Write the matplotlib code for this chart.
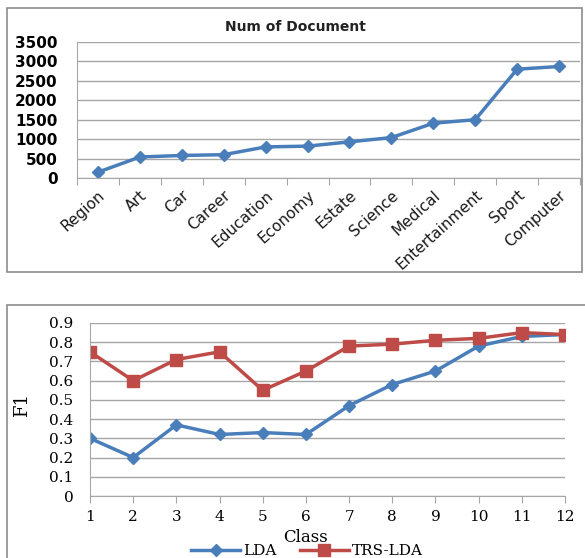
import matplotlib.pyplot as plt
from matplotlib.patches import Rectangle

# data
categories = ['Region', 'Art', 'Car', 'Career', 'Education', 'Economy', 'Estate',
              'Science', 'Medical', 'Entertainment', 'Sport', 'Computer']
num_docs = [150, 540, 580, 600, 800, 820, 930, 1040, 1410, 1500, 2800, 2870]

classes = [1, 2, 3, 4, 5, 6, 7, 8, 9, 10, 11, 12]
f1_lda = [0.30, 0.20, 0.37, 0.32, 0.33, 0.32, 0.47, 0.58, 0.65, 0.78, 0.83, 0.84]
f1_trs = [0.75, 0.60, 0.71, 0.75, 0.55, 0.65, 0.78, 0.79, 0.81, 0.82, 0.85, 0.84]

W, H = 585, 558
fig = plt.figure(figsize=(W / 100, H / 100), dpi=100)


def px_axes(x0, y0, x1, y1):
    # pixel box (top-left origin) -> figure axes
    return fig.add_axes([x0 / W, 1 - y1 / H, (x1 - x0) / W, (y1 - y0) / H])


# outer frames of the two charts
fig.patches.append(Rectangle((7 / W, 1 - 272 / H), 575 / W, 264 / H, transform=fig.transFigure,
                             fill=False, edgecolor='#8c8c8c', lw=1.2))
fig.patches.append(Rectangle((7 / W, -0.1), 1.0, 1 - 305 / H + 0.1, transform=fig.transFigure,
                             fill=False, edgecolor='#8c8c8c', lw=1.2))

grid_c = '#a6a6a6'
blue = '#4a7ebb'
red = '#be4b48'

# ---- top chart ----
ax1 = px_axes(77, 42, 580, 178)
x = range(len(categories))
ax1.plot(x, num_docs, color=blue, lw=2.5, marker='D', ms=6.5, mec=blue, mfc=blue)
ax1.set_xlim(-0.5, len(categories) - 0.5)
ax1.set_ylim(0, 3500)
ax1.set_yticks(range(0, 3501, 500))
ax1.set_xticks([i + 0.5 for i in range(-1, len(categories))])
ax1.set_xticklabels([])
ax1.set_xticks(list(x), minor=True)
ax1.set_xticklabels(categories, minor=True, rotation=42, ha='right', rotation_mode='anchor',
                    fontsize=11, color='#1a1a1a')
ax1.tick_params(axis='x', which='minor', length=0, pad=7)
ax1.tick_params(axis='x', which='major', length=5, color=grid_c, direction='out')
ax1.tick_params(axis='y', length=0, pad=14, labelsize=11)
for lab in ax1.get_yticklabels():
    lab.set_fontweight('bold')
ax1.grid(axis='y', color=grid_c, lw=1)
for s in ['top', 'right']:
    ax1.spines[s].set_visible(False)
ax1.spines['left'].set_color(grid_c)
ax1.spines['bottom'].set_color(grid_c)
ax1.set_axisbelow(True)
fig.text(295 / W, 1 - 27 / H, 'Num of Document', ha='center', va='center',
         fontsize=10, fontweight='semibold', color='#222222')

# ---- bottom chart ----
ax2 = px_axes(90, 323, 565, 496)
ax2.plot(classes, f1_lda, color=blue, lw=2.5, marker='D', ms=6.5, label='LDA')
ax2.plot(classes, f1_trs, color=red, lw=2.5, marker='s', ms=9, label='TRS-LDA')
ax2.set_xlim(1, 12)
ax2.set_ylim(0, 0.9)
ax2.set_xticks(classes)
ax2.set_yticks([i / 10 for i in range(10)])
ax2.set_yticklabels(['0'] + ['%.1f' % (i / 10) for i in range(1, 10)])
ax2.tick_params(axis='x', length=5, color=grid_c, pad=5)
ax2.tick_params(axis='y', length=0, pad=12)
for lab in ax2.get_xticklabels() + ax2.get_yticklabels():
    lab.set_fontfamily('DejaVu Serif')
    lab.set_fontsize(11)
ax2.grid(axis='y', color=grid_c, lw=1)
for s in ['top', 'right']:
    ax2.spines[s].set_visible(False)
ax2.spines['left'].set_color(grid_c)
ax2.spines['bottom'].set_color(grid_c)
ax2.set_axisbelow(True)
fig.text(305 / W, 1 - 537 / H, 'Class', ha='center', va='center', fontsize=12,
         family='DejaVu Serif')
fig.text(22 / W, 1 - 405 / H, 'F1', ha='center', va='center', fontsize=13,
         family='DejaVu Serif', rotation=90)
fig.legend(loc='center', bbox_to_anchor=(307 / W, 1 - 551 / H), ncol=2, frameon=False,
           prop={'family': 'DejaVu Serif', 'size': 11}, handlelength=3.2,
           columnspacing=1.5, handletextpad=0.2, borderpad=0)

fig.savefig('out.png', dpi=100)
